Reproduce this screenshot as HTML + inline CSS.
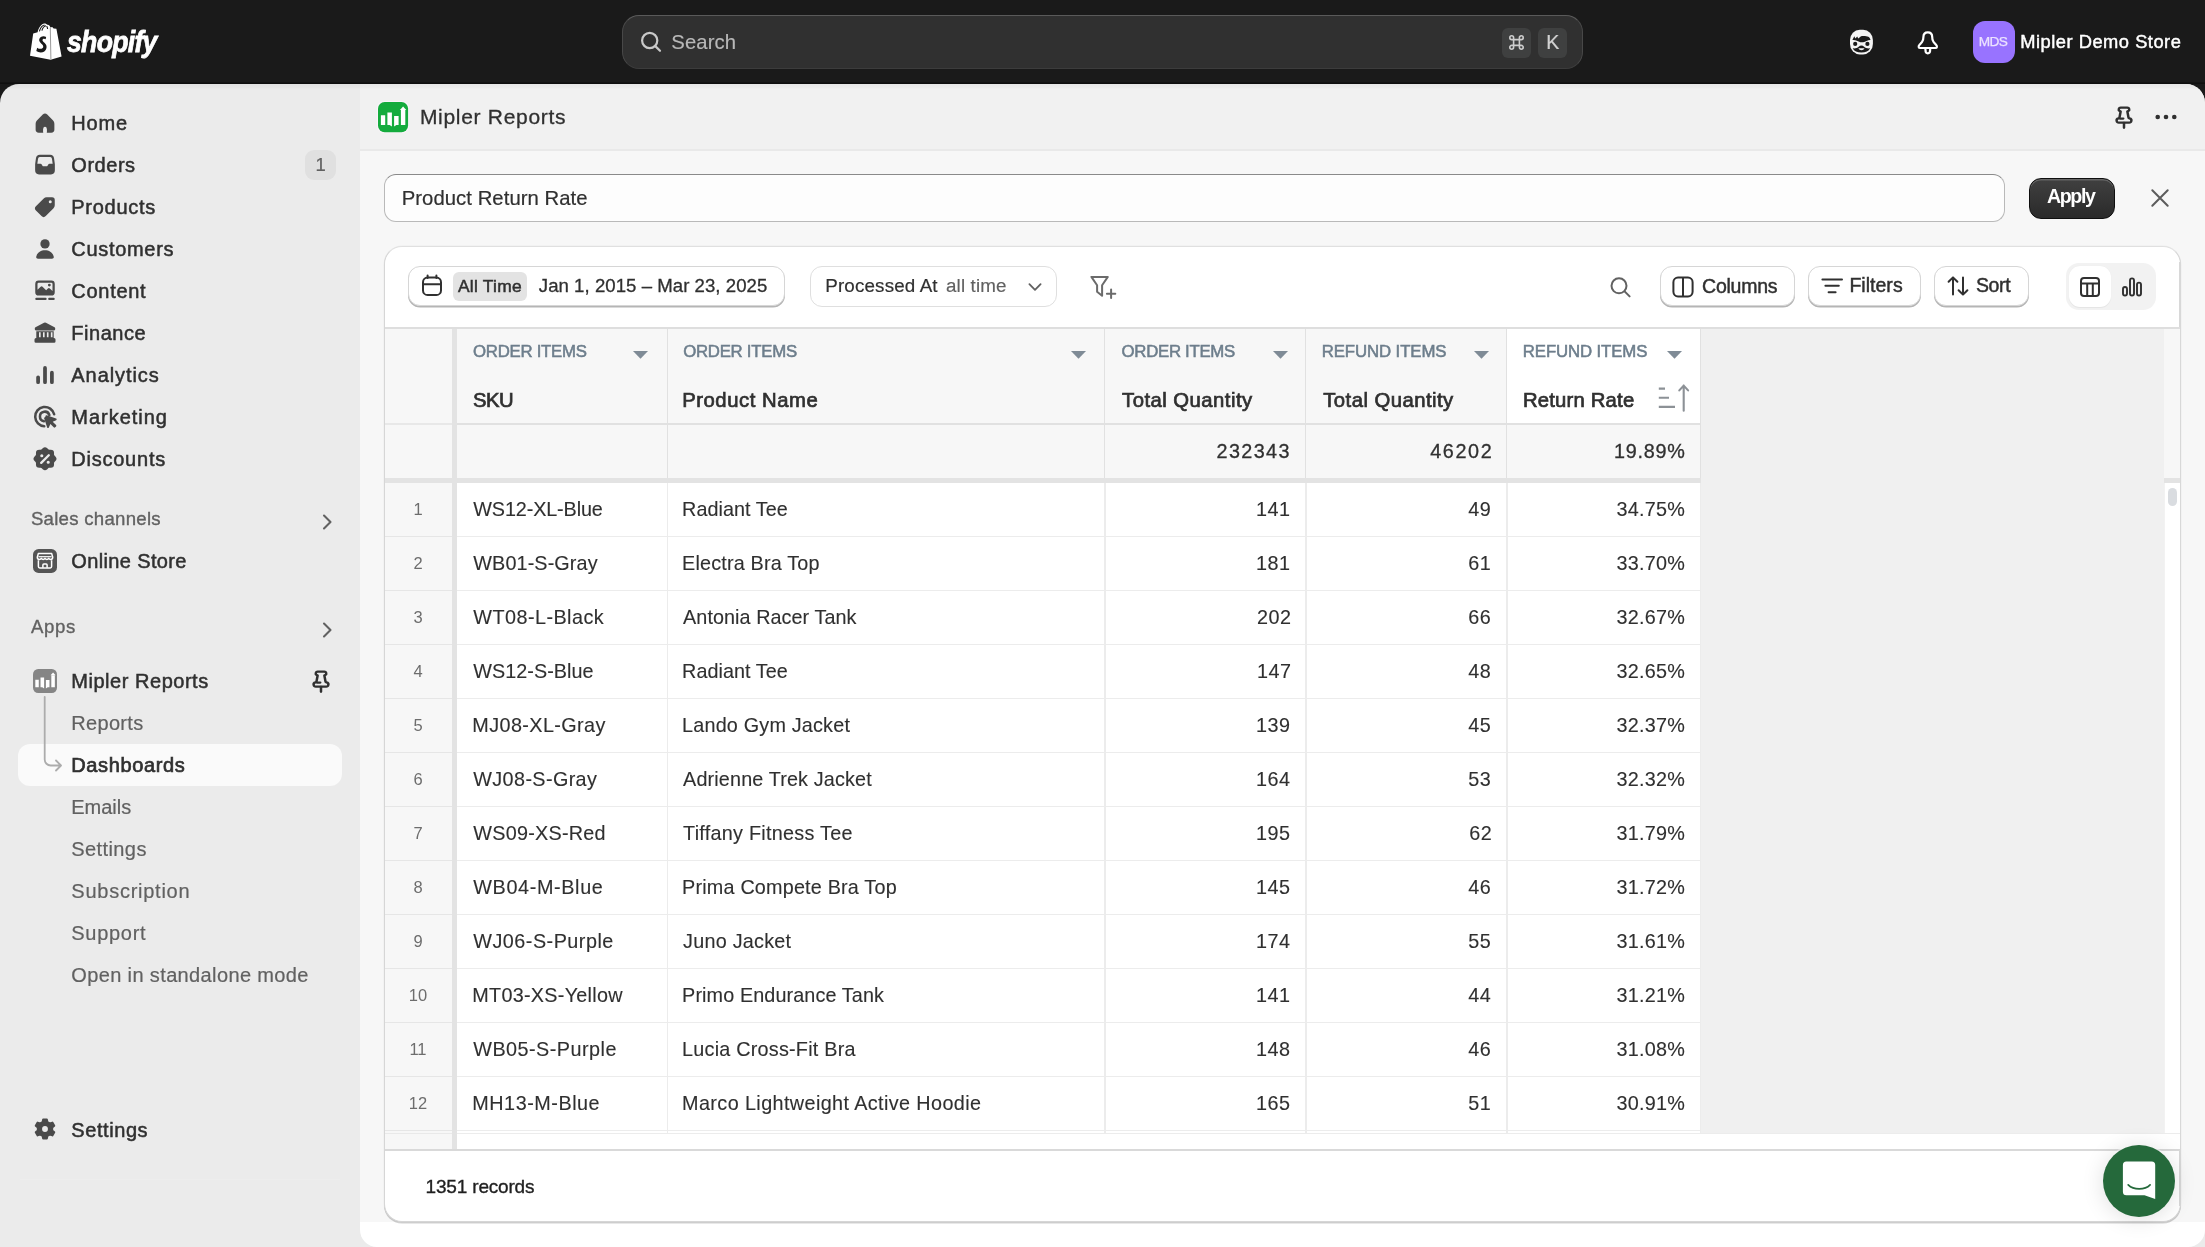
<!DOCTYPE html>
<html lang="en">
<head>
<meta charset="utf-8">
<title>Mipler Reports - Product Return Rate</title>
<style>
*{box-sizing:border-box;margin:0;padding:0}
html,body{width:2205px;height:1247px;overflow:hidden;background:#1a1a1a}
body{font-family:"Liberation Sans",sans-serif;color:#303030;position:relative}
.abs{position:absolute}
svg{display:block;overflow:visible}
.t{position:absolute;white-space:nowrap;line-height:1;transform:translateY(-50%)}
</style>
</head>
<body>
<div id="root" class="abs" style="left:0;top:0;width:2205px;height:1247px;will-change:transform">
<div class="abs" style="left:0px;top:0px;width:2205px;height:84px;background:#1a1a1a"></div>
<div class="abs" style="left:0px;top:81.5px;width:2205px;height:2.5px;background:linear-gradient(#151515,#0d0d0d)"></div>
<div class="abs" style="left:0px;top:84px;width:360px;height:1163px;background:#ebebeb;border-top-left-radius:19px"></div>
<div class="abs" style="left:360px;top:84px;width:1845px;height:1163px;background:#f7f7f7;border-top-right-radius:19px"></div>
<div class="abs" style="left:360px;top:84px;width:1845px;height:65.5px;background:#f1f1f1;border-top-right-radius:19px"></div>
<div class="abs" style="left:360px;top:149px;width:1845px;height:1.5px;background:#e9e9e9"></div>
<div class="abs" style="left:0px;top:84px;width:2205px;height:5px;background:linear-gradient(rgba(0,0,0,.045),rgba(0,0,0,.02) 80%,transparent);border-top-left-radius:19px;border-top-right-radius:19px"></div>
<div class="abs" style="left:360px;top:1222px;width:1845px;height:25px;background:#ebebeb"></div>
<div class="abs" style="left:360px;top:1222px;width:1845px;height:25px;background:#fff;border-bottom-left-radius:17px;border-bottom-right-radius:17px"></div>
<svg class="abs" style="left:29px;top:22px" width="34" height="39" viewBox="0 0 34 39" ><path d="M4.2 11.6 L8.6 10.2 C9.6 5.6 12.4 1.6 15.4 1.4 C16.6 1.3 17.5 1.9 18.2 2.8 C19.6 2.4 20.8 3.2 21.4 5.4 L23.2 5 L24.6 6.4 L27.4 6.7 L32.6 34.6 L21.6 37.8 L1 33.8 Z" fill="#fff"/>
<path d="M21.3 5.6 L21.9 37.6" stroke="#9a9a9a" stroke-width="1" fill="none"/>
<path d="M10.4 9.4 C11.4 5.9 13.4 3.4 15.5 3 M12.9 8.6 C13.6 6 15 4.2 17 3.8 M17.6 4.2 C18.3 5 18.5 6 18.6 7" stroke="#1a1a1a" stroke-width="1.1" fill="none"/>
<path transform="translate(-0.84 -0.34) scale(1.085 1.0875)" d="M16.6 14 C14.6 12.9 10.9 13.1 10.2 16.2 C9.5 19.6 14.4 20.6 13.9 23.4 C13.5 25.6 10.2 25.3 8.3 23.9 L7.5 27 C10.2 29.1 15.9 29 16.9 24.2 C17.8 19.6 12.9 18.9 13.2 16.8 C13.5 15.2 15.4 15.5 16.1 16.2 Z" fill="#1a1a1a"/></svg>
<div class="t" style="font-size:29.6px;color:#fff;transform:translateY(-50%) scaleX(0.9);transform-origin:0 50%;left:67.20px;top:42.30px;letter-spacing:-0.794px;font-weight:700;font-style:italic;-webkit-text-stroke:0.8px #fff">shopify</div>
<div class="abs" style="left:622px;top:15px;width:960.5px;height:54px;border-radius:17px;background:#303030;border:1px solid #484848;border-top-color:#5a5a5a;border-bottom-color:#3c3c3c"></div>
<svg class="abs" style="left:637px;top:28px" width="28" height="28" viewBox="0 0 28 28" fill="none" stroke="#c9c9c9" stroke-width="2.2" stroke-linecap="round"><circle cx="12.7" cy="12.5" r="7.6"/><path d="M18.3 18.1 L23 22.8"/></svg>
<div class="t" style="font-size:20.3px;color:#b8b8b8;left:671.30px;top:41.80px;letter-spacing:0.104px;-webkit-text-stroke:0.15px #b8b8b8">Search</div>
<div class="abs" style="left:1501.7px;top:27.7px;width:29.6px;height:30.2px;border-radius:6px;background:#3f4040"></div>
<div class="abs" style="left:1537.6px;top:27.7px;width:29.6px;height:30.2px;border-radius:6px;background:#3f4040"></div>
<svg class="abs" style="left:1508px;top:34px" width="17" height="17" viewBox="0 0 17 17" fill="none" stroke="#cdcdcd" stroke-width="1.6"><path d="M5.6 5.6h5.8v5.8H5.6ZM5.6 5.6V3.7a1.9 1.9 0 1 0-1.9 1.9ZM11.4 5.6h1.9a1.9 1.9 0 1 0-1.9-1.9ZM11.4 11.4v1.9a1.9 1.9 0 1 0 1.9-1.9ZM5.6 11.4H3.7a1.9 1.9 0 1 0 1.9 1.9Z"/></svg>
<div class="t" style="font-size:19.6px;color:#d2d2d2;left:1546.20px;top:43.10px;letter-spacing:0.000px;-webkit-text-stroke:0.2px #d2d2d2">K</div>
<svg class="abs" style="left:1847px;top:27px" width="28" height="29" viewBox="0 0 28 29" ><rect x="3" y="2.7" width="22.9" height="24.7" rx="9.8" ry="10.4" fill="#f4f4f4"/>
<path d="M5.4 13 7.3 9.3l1.1 2.3 1.8-2.1 1.1 1.9 2.7-2.2c2.7-.4 5.6-.1 7.3.5 1.1.4 1.9 1.7 2.2 3.3-1.3-.1-2.6.2-3.9.9-1.6.9-3.1 1.3-4.9 1.3s-3.3-.6-4.9-1.5c-1.4-.7-2.9-.9-4.4-.7Z" fill="#1a1a1a"/>
<circle cx="8.2" cy="16.9" r="2.1" fill="#1a1a1a"/><circle cx="20.4" cy="16.9" r="2.1" fill="#1a1a1a"/>
<path d="M5.7 21.3c2.5.4 4.6-.2 6-1.6 1.5-1.5 3.9-1.5 5.4 0 1.4 1.4 3.5 2 6 1.6-1.3 2.9-4.5 4.3-8.7 4.3s-7.4-1.4-8.7-4.3Z" fill="#1a1a1a"/>
<path d="M11.4 21.3c.9 2.5 5.2 2.5 6.1 0Z" fill="#f4f4f4"/></svg>
<svg class="abs" style="left:1913.5px;top:28.5px" width="28" height="28" viewBox="0 0 28 28" fill="none" stroke="#fff" stroke-width="2.2" stroke-linecap="round" stroke-linejoin="round"><path d="M13.8 3.3C10.9 3.3 9.4 5.4 9.4 8c0 2.5-.2 3.5-1.3 4.9-.9 1.1-1.8 2-2.7 3-1.2 1.3-1 3.1.9 3.1h15c1.9 0 2.1-1.8.9-3.1-.9-1-1.8-1.9-2.7-3-1.1-1.4-1.3-2.4-1.3-4.9 0-2.6-1.5-4.7-4.4-4.7Z"/>
<path d="M11.4 20.2c0 2.5 1 4.1 2.4 4.1s2.4-1.6 2.4-4.1"/></svg>
<div class="abs" style="left:1972.5px;top:21px;width:42px;height:42px;border-radius:12px;background:#9873ff"></div>
<div class="t" style="font-size:13.7px;color:#ece3ff;left:1978.70px;top:42.00px;letter-spacing:-0.643px;-webkit-text-stroke:0.25px #ece3ff">MDS</div>
<div class="t" style="font-size:18.3px;color:#fff;left:2020.30px;top:41.50px;letter-spacing:0.511px;-webkit-text-stroke:0.45px #fff">Mipler Demo Store</div>
<svg class="abs" style="left:30px;top:108.2px" width="30" height="30" viewBox="0 0 20 20" fill="#4a4a4a"><path d="M8.5 4.4a2.1 2.1 0 0 1 3 0l3.9 4a3 3 0 0 1 .85 2.1v3.9a2.1 2.1 0 0 1-2.1 2.1h-8.3a2.1 2.1 0 0 1-2.1-2.1v-3.9a3 3 0 0 1 .85-2.1l3.9-4Z"/><rect x="8.85" y="12.5" width="2.3" height="4.2" rx="1.1" fill="#ebebeb"/><rect x="8.85" y="14" width="2.3" height="2.7" fill="#ebebeb"/></svg>
<div class="t" style="font-size:20px;color:#303030;left:71.30px;top:122.60px;letter-spacing:0.824px;-webkit-text-stroke:0.5px #303030">Home</div>
<svg class="abs" style="left:30px;top:150.2px" width="30" height="30" viewBox="0 0 20 20" fill="#4a4a4a"><path transform="translate(10 9.7) scale(.94 1) translate(-10 -10)" fill-rule="evenodd" d="M6.3 3.5h7.4a2.75 2.75 0 0 1 2.72 2.35l.58 3.95v4a2.75 2.75 0 0 1-2.75 2.75h-8.5a2.75 2.75 0 0 1-2.75-2.75v-4l.58-3.95a2.75 2.75 0 0 1 2.72-2.35Zm0 1.5a1.25 1.25 0 0 0-1.24 1.07l-.5 3.43h2.2c.43 0 .83.23 1.04.6l.27.47c.2.35.58.58 1 .58h1.86c.42 0 .8-.23 1-.58l.27-.47c.21-.37.61-.6 1.04-.6h2.2l-.5-3.43a1.25 1.25 0 0 0-1.24-1.07h-7.4Z"/></svg>
<div class="t" style="font-size:20px;color:#303030;left:71.30px;top:164.60px;letter-spacing:0.535px;-webkit-text-stroke:0.5px #303030">Orders</div>
<svg class="abs" style="left:30px;top:192.2px" width="30" height="30" viewBox="0 0 20 20" fill="#4a4a4a"><path fill-rule="evenodd" d="M11.1 3.5h3.65a1.75 1.75 0 0 1 1.75 1.75v3.65a2.75 2.75 0 0 1-.8 1.95l-5.2 5.2a2 2 0 0 1-2.83 0l-3.72-3.72a2 2 0 0 1 0-2.83l5.2-5.2a2.75 2.75 0 0 1 1.95-.8Zm2.4 4a1 1 0 1 0 0-2 1 1 0 0 0 0 2Z"/></svg>
<div class="t" style="font-size:20px;color:#303030;left:71.30px;top:206.60px;letter-spacing:0.711px;-webkit-text-stroke:0.5px #303030">Products</div>
<svg class="abs" style="left:30px;top:234.2px" width="30" height="30" viewBox="0 0 20 20" fill="#4a4a4a"><circle cx="10" cy="6.6" r="3.1"/><path d="M4.15 15.1c.75-2.8 3.1-4.2 5.85-4.2s5.1 1.4 5.85 4.2c.2.75-.4 1.4-1.15 1.4h-9.4c-.75 0-1.35-.65-1.15-1.4Z"/></svg>
<div class="t" style="font-size:20px;color:#303030;left:71.30px;top:248.60px;letter-spacing:0.689px;-webkit-text-stroke:0.5px #303030">Customers</div>
<svg class="abs" style="left:30px;top:276.2px" width="30" height="30" viewBox="0 0 20 20" fill="#4a4a4a"><path fill-rule="evenodd" d="M5.75 3h8.5a2.25 2.25 0 0 1 2.25 2.25v5.5a2.25 2.25 0 0 1-2.25 2.25h-8.5a2.25 2.25 0 0 1-2.25-2.25v-5.5a2.25 2.25 0 0 1 2.25-2.25Zm-.75 6.2 2.1-2.1a.9.9 0 0 1 1.27 0l2.38 2.38 1.2-1.2a.9.9 0 0 1 1.27 0l1.78 1.78v-4.8a.75.75 0 0 0-.75-.75h-8.5a.75.75 0 0 0-.75.75v3.94Zm7.9-2.2a.95.95 0 1 0 0-1.9.95.95 0 0 0 0 1.9Z"/><path d="M4.25 14.5h6.1a.75.75 0 0 1 0 1.5h-6.1a.75.75 0 0 1 0-1.5Zm8.6 0h2.9a.75.75 0 0 1 0 1.5h-2.9a.75.75 0 0 1 0-1.5Z"/></svg>
<div class="t" style="font-size:20px;color:#303030;left:71.30px;top:290.60px;letter-spacing:0.718px;-webkit-text-stroke:0.5px #303030">Content</div>
<svg class="abs" style="left:30px;top:318.2px" width="30" height="30" viewBox="0 0 20 20" fill="#4a4a4a"><path d="M9.35 3.2a1.4 1.4 0 0 1 1.3 0l5.7 3a.85.85 0 0 1 .45.75v.6a.75.75 0 0 1-.75.75h-12.1a.75.75 0 0 1-.75-.75v-.6a.85.85 0 0 1 .45-.75l5.7-3Z"/><path fill-rule="evenodd" d="M4.2 8.9h11.6v4.6h-11.6Zm1.8.6v3.3h1.1v-3.3Zm2.65 0v3.3h1.1v-3.3Zm2.6 0v3.3h1.1v-3.3Zm2.65 0v3.3h1.1v-3.3Z"/><path d="M4 13.4h12a1 1 0 0 1 1 1v1.2a.9.9 0 0 1-.9.9h-12.2a.9.9 0 0 1-.9-.9v-1.2a1 1 0 0 1 1-1Z"/></svg>
<div class="t" style="font-size:20px;color:#303030;left:71.30px;top:332.60px;letter-spacing:0.528px;-webkit-text-stroke:0.5px #303030">Finance</div>
<svg class="abs" style="left:30px;top:360.2px" width="30" height="30" viewBox="0 0 20 20" fill="#4a4a4a"><path d="M5.4 10.3a1.25 1.25 0 0 1 1.25 1.25v3.2a1.25 1.25 0 0 1-2.5 0v-3.2a1.25 1.25 0 0 1 1.25-1.25Zm4.6-6.3a1.25 1.25 0 0 1 1.25 1.25v9.5a1.25 1.25 0 0 1-2.5 0v-9.5a1.25 1.25 0 0 1 1.25-1.25Zm4.6 3.2a1.25 1.25 0 0 1 1.25 1.25v6.3a1.25 1.25 0 0 1-2.5 0v-6.3a1.25 1.25 0 0 1 1.25-1.25Z"/></svg>
<div class="t" style="font-size:20px;color:#303030;left:71.30px;top:374.60px;letter-spacing:0.934px;-webkit-text-stroke:0.5px #303030">Analytics</div>
<svg class="abs" style="left:30px;top:402.2px" width="30" height="30" viewBox="0 0 20 20" fill="#4a4a4a"><path fill="none" stroke="#4a4a4a" stroke-width="1.7" stroke-linecap="round" d="M16.1 8.2a6.4 6.4 0 1 0-6.6 7.9"/><path fill="none" stroke="#4a4a4a" stroke-width="1.7" stroke-linecap="round" d="M12.9 8.7a3.2 3.2 0 1 0-3.6 4.1"/><path d="M10.35 9.6a.6.6 0 0 1 .75-.75l6.3 2.15a.6.6 0 0 1 .05 1.1l-2.3 1.05 2.2 2.2a.7.7 0 0 1 0 1l-.55.55a.7.7 0 0 1-1 0l-2.2-2.2-1.05 2.3a.6.6 0 0 1-1.1-.05l-2.1-6.35Z"/></svg>
<div class="t" style="font-size:20px;color:#303030;left:71.30px;top:416.60px;letter-spacing:0.976px;-webkit-text-stroke:0.5px #303030">Marketing</div>
<svg class="abs" style="left:30px;top:444.2px" width="30" height="30" viewBox="0 0 20 20" fill="#4a4a4a"><g transform="translate(10 10) scale(1.1) translate(-10 -10)"><path fill-rule="evenodd" d="M8.6 3.55a2 2 0 0 1 2.8 0l.55.53c.2.2.48.3.76.3l.77-.02a2 2 0 0 1 2 2l-.02.77c0 .28.1.56.3.76l.54.55a2 2 0 0 1 0 2.8l-.54.55c-.2.2-.3.48-.3.76l.02.77a2 2 0 0 1-2 2l-.77-.02c-.28 0-.56.1-.76.3l-.55.54a2 2 0 0 1-2.8 0l-.55-.54a1.05 1.05 0 0 0-.76-.3l-.77.02a2 2 0 0 1-2-2l.02-.77c0-.28-.1-.56-.3-.76l-.54-.55a2 2 0 0 1 0-2.8l.54-.55c.2-.2.3-.48.3-.76l-.02-.77a2 2 0 0 1 2-2l.77.02c.28 0 .56-.1.76-.3l.55-.53Zm-.55 5.4a.95.95 0 1 0 0-1.9.95.95 0 0 0 0 1.9Zm3.9 4a.95.95 0 1 0 0-1.9.95.95 0 0 0 0 1.9Zm.85-4.7a.7.7 0 0 0-1-1l-4.6 4.6a.7.7 0 0 0 1 1l4.6-4.6Z"/></g></svg>
<div class="t" style="font-size:20px;color:#303030;left:71.30px;top:458.60px;letter-spacing:0.761px;-webkit-text-stroke:0.5px #303030">Discounts</div>
<div class="abs" style="left:305px;top:150px;width:31px;height:30px;border-radius:9px;background:#e0e0e0"></div>
<div class="t" style="font-size:18.5px;color:#616161;left:315.50px;top:165.00px;letter-spacing:0.000px;-webkit-text-stroke:0.2px #616161">1</div>
<div class="t" style="font-size:18.6px;color:#616161;left:30.90px;top:518.60px;letter-spacing:0.276px;-webkit-text-stroke:0.35px #616161">Sales channels</div>
<svg class="abs" style="left:318px;top:510px" width="20" height="24" viewBox="0 0 20 24" fill="none" stroke="#616161" stroke-width="2.1" stroke-linecap="round" stroke-linejoin="round"><path d="M6 5.5 L12.5 12 L6 18.5"/></svg>
<svg class="abs" style="left:33px;top:549px" width="24" height="24" viewBox="0 0 24 24" ><rect width="24" height="24" rx="5.6" fill="#555"/>
<path d="M5.3 4.6h13.4l1 3.7c0 1.3-.9 2.2-2.1 2.2-.8 0-1.5-.4-1.9-1.1-.4.7-1.1 1.1-1.85 1.1s-1.45-.4-1.85-1.1c-.4.7-1.1 1.1-1.85 1.1s-1.45-.4-1.85-1.1c-.4.7-1.1 1.1-1.9 1.1-1.2 0-2.1-.9-2.1-2.2Z" fill="none" stroke="#fff" stroke-width="1.5" stroke-linejoin="round"/>
<path d="M5.5 7.7h13" stroke="#fff" stroke-width="1.2"/>
<path d="M5.4 11.2v6.4a1.4 1.4 0 0 0 1.4 1.4h10.4a1.4 1.4 0 0 0 1.4-1.4v-6.4" fill="none" stroke="#fff" stroke-width="1.5"/>
<path d="M9.9 18.8v-2.9a1 1 0 0 1 1-1h2.2a1 1 0 0 1 1 1v2.9" fill="none" stroke="#fff" stroke-width="1.5"/></svg>
<div class="t" style="font-size:20px;color:#303030;left:71.30px;top:561.20px;letter-spacing:0.359px;-webkit-text-stroke:0.5px #303030">Online Store</div>
<div class="t" style="font-size:18.6px;color:#616161;left:31.00px;top:626.80px;letter-spacing:0.605px;-webkit-text-stroke:0.35px #616161">Apps</div>
<svg class="abs" style="left:318px;top:618px" width="20" height="24" viewBox="0 0 20 24" fill="none" stroke="#616161" stroke-width="2.1" stroke-linecap="round" stroke-linejoin="round"><path d="M6 5.5 L12.5 12 L6 18.5"/></svg>
<svg class="abs" style="left:33px;top:668.8px" width="24" height="24" viewBox="0 0 24 24" ><rect width="24" height="24" rx="5.2" fill="#858585"/>
<g transform="scale(.8)"><path d="M2.9 13.3h4.3v9.6H2.9ZM9.4 10.6h4.5v13.9l-2.3-1.6H9.4ZM16.1 13.9h4.5v9H18.4l-2.3 1.6ZM22.9 7.7h4.4v15.2h-4.4Z" fill="#fff"/>
<path d="M21.9 7.9 L25.1 4.4 L28.3 7.9Z" fill="#fff"/></g></svg>
<div class="t" style="font-size:20px;color:#303030;left:71.30px;top:680.70px;letter-spacing:0.528px;-webkit-text-stroke:0.5px #303030">Mipler Reports</div>
<svg class="abs" style="left:307.15px;top:663.7px" width="28" height="32" viewBox="0 0 28 32" fill="none" stroke="#303030" stroke-width="2.3" stroke-linecap="round" stroke-linejoin="round"><g transform="translate(14 0) scale(1.09 1) translate(-14 0)"><path d="M10.9 7.65h6.2a1.75 1.75 0 0 1 .9 3.25l-.9.6 1.1 6.4 1 .45a2.2 2.2 0 0 1-.85 4.3H9.65a2.2 2.2 0 0 1-.85-4.3l1-.45 1.1-6.4-.9-.6a1.75 1.75 0 0 1 .9-3.25Z"/><path d="M14 22.9v4.9M10.3 18.6h3"/></g></svg>
<div class="abs" style="left:18px;top:744px;width:324px;height:41.5px;border-radius:12px;background:#fafafa"></div>
<svg class="abs" style="left:36px;top:696px" width="32" height="80" viewBox="0 0 32 80" fill="none" stroke="#acacac" stroke-width="1.8" stroke-linecap="round" stroke-linejoin="round"><path d="M8.7 1 V63.5 a6 6 0 0 0 6 6 H24.5 M20 64.5 L25 69.5 L20 74.5"/></svg>
<div class="t" style="font-size:20px;color:#616161;left:71.30px;top:722.60px;letter-spacing:0.312px;-webkit-text-stroke:0.2px #616161">Reports</div>
<div class="t" style="font-size:20px;color:#303030;left:71.30px;top:764.80px;letter-spacing:0.618px;-webkit-text-stroke:0.7px #303030">Dashboards</div>
<div class="t" style="font-size:20px;color:#616161;left:71.30px;top:806.60px;letter-spacing:-0.022px;-webkit-text-stroke:0.2px #616161">Emails</div>
<div class="t" style="font-size:20px;color:#616161;left:71.30px;top:848.60px;letter-spacing:0.405px;-webkit-text-stroke:0.2px #616161">Settings</div>
<div class="t" style="font-size:20px;color:#616161;left:71.30px;top:890.60px;letter-spacing:0.751px;-webkit-text-stroke:0.2px #616161">Subscription</div>
<div class="t" style="font-size:20px;color:#616161;left:71.30px;top:932.60px;letter-spacing:0.701px;-webkit-text-stroke:0.2px #616161">Support</div>
<div class="t" style="font-size:20px;color:#616161;left:71.30px;top:974.60px;letter-spacing:0.367px;-webkit-text-stroke:0.2px #616161">Open in standalone mode</div>
<svg class="abs" style="left:30px;top:1114px" width="30" height="30" viewBox="0 0 20 20" fill="#4a4a4a"><path fill-rule="evenodd" stroke="#4a4a4a" stroke-width="1.3" stroke-linejoin="round" d="M11.6 5.37 L11.25 3.57 L8.75 3.57 L8.4 5.37 L6.79 6.3 L5.06 5.7 L3.81 7.87 L5.19 9.07 L5.19 10.93 L3.81 12.13 L5.06 14.3 L6.79 13.7 L8.4 14.63 L8.75 16.43 L11.25 16.43 L11.6 14.63 L13.21 13.7 L14.94 14.3 L16.19 12.13 L14.81 10.93 L14.81 9.07 L16.19 7.87 L14.94 5.7 L13.21 6.3Z M10 12.6a2.6 2.6 0 1 0 0-5.2 2.6 2.6 0 0 0 0 5.2Z"/></svg>
<div class="abs" style="left:20px;top:1179.2px;width:320px;height:1.3px;background:#ededed"></div>
<div class="t" style="font-size:20px;color:#303030;left:71.30px;top:1129.60px;letter-spacing:0.576px;-webkit-text-stroke:0.5px #303030">Settings</div>
<svg class="abs" style="left:378px;top:101.8px" width="30" height="30" viewBox="0 0 30 30" ><rect x="-1.1" y="-1.1" width="32.3" height="32.4" rx="7.6" fill="#fbf4fb"/><rect width="30.1" height="30.2" rx="6.6" fill="#14ab3d"/>
<path d="M2.9 13.3h4.3v9.6H2.9ZM9.4 10.6h4.5v13.9l-2.3-1.6H9.4ZM16.1 13.9h4.5v9H18.4l-2.3 1.6ZM22.9 7.7h4.4v15.2h-4.4Z" fill="#fff"/>
<path d="M21.9 7.9 L25.1 4.4 L28.3 7.9Z" fill="#fff"/></svg>
<div class="t" style="font-size:21px;color:#303030;left:419.90px;top:115.90px;letter-spacing:0.705px;-webkit-text-stroke:0.3px #303030">Mipler Reports</div>
<svg class="abs" style="left:2110px;top:100px" width="28" height="32" viewBox="0 0 28 32" fill="none" stroke="#303030" stroke-width="2.3" stroke-linecap="round" stroke-linejoin="round"><g transform="translate(14 0) scale(1.09 1) translate(-14 0)"><path d="M10.9 7.65h6.2a1.75 1.75 0 0 1 .9 3.25l-.9.6 1.1 6.4 1 .45a2.2 2.2 0 0 1-.85 4.3H9.65a2.2 2.2 0 0 1-.85-4.3l1-.45 1.1-6.4-.9-.6a1.75 1.75 0 0 1 .9-3.25Z"/><path d="M14 22.9v4.9M10.3 18.6h3"/></g></svg>
<svg class="abs" style="left:2153px;top:113px" width="26" height="8" viewBox="0 0 26 8" fill="#303030"><circle cx="4.7" cy="4" r="2.3"/><circle cx="13" cy="4" r="2.3"/><circle cx="21.3" cy="4" r="2.3"/></svg>
<div class="abs" style="left:384px;top:174px;width:1620.5px;height:47.5px;border-radius:12px;background:#fdfdfd;border:1px solid #b9b9b9;border-top-color:#8a8a8a"></div>
<div class="t" style="font-size:20.3px;color:#303030;left:401.70px;top:197.60px;letter-spacing:0.056px;-webkit-text-stroke:0.2px #303030">Product Return Rate</div>
<div class="abs" style="left:2028.5px;top:177.5px;width:86.5px;height:41.5px;border-radius:12px;background:linear-gradient(#404040,#2a2a2a);border:1.5px solid #0f0f0f;box-shadow:inset 0 1.5px 0 rgba(255,255,255,.2)"></div>
<div class="t" style="font-size:19.6px;color:#fff;left:2047.00px;top:197.30px;letter-spacing:-1.383px;font-weight:700">Apply</div>
<svg class="abs" style="left:2148px;top:186px" width="24" height="24" viewBox="0 0 24 24" fill="none" stroke="#5c5c5c" stroke-width="2" stroke-linecap="round"><path d="M4.3 4.3 L19.7 19.7 M19.7 4.3 L4.3 19.7"/></svg>
<div class="abs" style="left:384px;top:246px;width:1797px;height:976px;border-radius:18px;background:#fff;border:1px solid #d6d6d6;border-top-color:#e0e0e0;box-shadow:0 1.5px 0 rgba(0,0,0,.18), 0 0 0 .5px rgba(0,0,0,.04)"></div>
<div class="abs" style="left:2179px;top:262px;width:2px;height:944px;background:#d8d8d8"></div>
<div class="abs" style="left:408px;top:266px;width:377px;height:39.7px;border-radius:12px;background:#fff;border:1px solid #d6d6d6;box-shadow:0 1.5px 0 #b5b5b5"></div>
<svg class="abs" style="left:420px;top:274px" width="24" height="24" viewBox="0 0 24 24" fill="none" stroke="#303030" stroke-width="2" stroke-linecap="round"><rect x="3" y="3.6" width="18" height="17.4" rx="4.6"/><path d="M3.4 10.2h17.2M7.6 1.6v2.4M16.4 1.6v2.4"/></svg>
<div class="abs" style="left:453px;top:271.7px;width:73.5px;height:29.3px;border-radius:6px;background:#e3e3e3"></div>
<div class="t" style="font-size:17.4px;color:#303030;left:458.00px;top:286.60px;letter-spacing:0.245px;-webkit-text-stroke:0.5px #303030">All Time</div>
<div class="t" style="font-size:18.6px;color:#303030;left:538.80px;top:286.20px;letter-spacing:0.041px;-webkit-text-stroke:0.3px #303030">Jan 1, 2015 – Mar 23, 2025</div>
<div class="abs" style="left:810px;top:266px;width:247px;height:40.7px;border-radius:12px;background:#fff;border:1.5px solid #dfdfdf"></div>
<div class="t" style="font-size:18.8px;color:#303030;left:825.30px;top:286.20px;letter-spacing:0.147px;-webkit-text-stroke:0.2px #303030">Processed At</div>
<div class="t" style="font-size:18.8px;color:#616161;left:946.00px;top:286.20px;letter-spacing:0.137px;-webkit-text-stroke:0.15px #616161">all time</div>
<svg class="abs" style="left:1025px;top:277px" width="20" height="20" viewBox="0 0 20 20" fill="none" stroke="#616161" stroke-width="1.8" stroke-linecap="round" stroke-linejoin="round"><path d="M4.4 7.2 L10 12.8 L15.6 7.2"/></svg>
<svg class="abs" style="left:1088px;top:273px" width="30" height="28" viewBox="0 0 30 28" fill="none" stroke="#6b6b6b" stroke-width="2" stroke-linecap="round" stroke-linejoin="round"><path d="M3.4 3.9h16.4l-5.7 8.3v10.6l-5-4.1v-6.5Z"/><path d="M23.1 16.6v8.4M18.9 20.8h8.4"/></svg>
<svg class="abs" style="left:1607px;top:274px" width="26" height="26" viewBox="0 0 26 26" fill="none" stroke="#616161" stroke-width="2" stroke-linecap="round"><circle cx="12" cy="11.8" r="7.5"/><path d="M17.6 17.4 L22.6 22.4"/></svg>
<div class="abs" style="left:1659.5px;top:266px;width:135.5px;height:40px;border-radius:12px;background:#fff;border:1px solid #d6d6d6;box-shadow:0 1.5px 0 #b5b5b5"></div>
<svg class="abs" style="left:1671px;top:274.5px" width="24" height="24" viewBox="0 0 24 24" fill="none" stroke="#303030" stroke-width="2"><rect x="2.4" y="2.6" width="19.2" height="18.8" rx="4.6"/><path d="M12 2.6v18.8"/></svg>
<div class="t" style="font-size:19.5px;color:#303030;left:1702.10px;top:286.60px;letter-spacing:-0.249px;-webkit-text-stroke:0.45px #303030">Columns</div>
<div class="abs" style="left:1808px;top:265.5px;width:113px;height:40px;border-radius:12px;background:#fff;border:1px solid #d6d6d6;box-shadow:0 1.5px 0 #b5b5b5"></div>
<svg class="abs" style="left:1819.5px;top:274px" width="24" height="24" viewBox="0 0 24 24" fill="none" stroke="#303030" stroke-width="2" stroke-linecap="round"><path d="M2.4 5.4h19.6M5.4 11.8h13.4M8.6 18.2h7"/></svg>
<div class="t" style="font-size:19.5px;color:#303030;left:1849.40px;top:285.60px;letter-spacing:0.028px;-webkit-text-stroke:0.45px #303030">Filters</div>
<div class="abs" style="left:1934px;top:265.5px;width:95px;height:40px;border-radius:12px;background:#fff;border:1px solid #d6d6d6;box-shadow:0 1.5px 0 #b5b5b5"></div>
<svg class="abs" style="left:1945.5px;top:274px" width="24" height="24" viewBox="0 0 24 24" fill="none" stroke="#303030" stroke-width="2" stroke-linecap="round" stroke-linejoin="round"><path d="M7 20.4V3.4M2.6 7.8 7 3.4l4.4 4.4M17 3.6v17M12.6 16.2l4.4 4.4 4.4-4.4"/></svg>
<div class="t" style="font-size:19.5px;color:#303030;left:1975.90px;top:285.60px;letter-spacing:-0.348px;-webkit-text-stroke:0.45px #303030">Sort</div>
<div class="abs" style="left:2065.5px;top:262.5px;width:90px;height:47.5px;border-radius:13px;background:#f2f2f2"></div>
<div class="abs" style="left:2069px;top:266px;width:41.5px;height:41px;border-radius:11px;background:#fff;box-shadow:0 .5px 1px rgba(0,0,0,.06)"></div>
<svg class="abs" style="left:2077.6px;top:274.5px" width="24" height="24" viewBox="0 0 24 24" fill="none" stroke="#303030" stroke-width="2" stroke-linejoin="round"><rect x="3" y="3" width="18" height="18" rx="3"/><path d="M3 8.6h18M9.2 8.6V21M14.8 8.6V21"/></svg>
<svg class="abs" style="left:2119.8px;top:275px" width="24" height="24" viewBox="0 0 24 24" fill="none" stroke="#303030" stroke-width="1.9" stroke-linejoin="round"><rect x="3" y="12" width="4" height="8.6" rx="2"/><rect x="10" y="3.4" width="4" height="17.2" rx="2"/><rect x="17" y="7.6" width="4" height="13" rx="2"/></svg>
<div class="abs" style="left:385px;top:327px;width:1795px;height:1.5px;background:#dedede"></div>
<div class="abs" style="left:1700.5px;top:328.5px;width:463.5px;height:805px;background:#f0f0f0"></div>
<div class="abs" style="left:2164px;top:328.5px;width:15.5px;height:149.5px;background:#f7f7f7"></div>
<div class="abs" style="left:2164px;top:483px;width:15.5px;height:650px;background:#fff;border-left:1.5px solid #f2f2f2"></div>
<div class="abs" style="left:2164px;top:478px;width:15.5px;height:5px;background:#e3e3e3"></div>
<div class="abs" style="left:2168px;top:487.5px;width:9px;height:18px;border-radius:5px;background:#d9dce0"></div>
<div class="abs" style="left:385px;top:328.5px;width:67px;height:95.5px;background:#f7f7f7"></div>
<div class="abs" style="left:385px;top:424px;width:67px;height:54px;background:#f7f7f7"></div>
<div class="abs" style="left:385px;top:423.3px;width:67px;height:1.5px;background:#e8e8e8"></div>
<div class="abs" style="left:457px;top:328.5px;width:210.5px;height:95.5px;background:#f7f7f7"></div>
<div class="abs" style="left:457px;top:424px;width:210.5px;height:54px;background:#f7f7f7"></div>
<div class="abs" style="left:457px;top:423.3px;width:210.5px;height:1.5px;background:#e1e1e1"></div>
<div class="abs" style="left:666.5px;top:328.5px;width:1.5px;height:149.5px;background:#e1e1e1"></div>
<div class="abs" style="left:667.5px;top:328.5px;width:437.5px;height:95.5px;background:#f7f7f7"></div>
<div class="abs" style="left:667.5px;top:424px;width:437.5px;height:54px;background:#f7f7f7"></div>
<div class="abs" style="left:667.5px;top:423.3px;width:437.5px;height:1.5px;background:#e1e1e1"></div>
<div class="abs" style="left:1104px;top:328.5px;width:1.5px;height:149.5px;background:#e1e1e1"></div>
<div class="abs" style="left:1105px;top:328.5px;width:201px;height:95.5px;background:#f7f7f7"></div>
<div class="abs" style="left:1105px;top:424px;width:201px;height:54px;background:#f7f7f7"></div>
<div class="abs" style="left:1105px;top:423.3px;width:201px;height:1.5px;background:#e1e1e1"></div>
<div class="abs" style="left:1305px;top:328.5px;width:1.5px;height:149.5px;background:#e1e1e1"></div>
<div class="abs" style="left:1306px;top:328.5px;width:201px;height:95.5px;background:#f7f7f7"></div>
<div class="abs" style="left:1306px;top:424px;width:201px;height:54px;background:#f7f7f7"></div>
<div class="abs" style="left:1306px;top:423.3px;width:201px;height:1.5px;background:#e1e1e1"></div>
<div class="abs" style="left:1506px;top:328.5px;width:1.5px;height:149.5px;background:#e1e1e1"></div>
<div class="abs" style="left:1507px;top:328.5px;width:193.5px;height:95.5px;background:#fff"></div>
<div class="abs" style="left:1507px;top:424px;width:193.5px;height:54px;background:#f7f7f7"></div>
<div class="abs" style="left:1507px;top:423.3px;width:193.5px;height:1.5px;background:#e1e1e1"></div>
<div class="abs" style="left:1699.5px;top:328.5px;width:1.5px;height:149.5px;background:#e1e1e1"></div>
<div class="t" style="font-size:16.8px;color:#6d7e8c;left:473.00px;top:352.40px;letter-spacing:-0.265px;-webkit-text-stroke:0.55px #6d7e8c">ORDER ITEMS</div>
<div class="t" style="font-size:20.3px;color:#303030;left:473.00px;top:399.90px;letter-spacing:-0.577px;-webkit-text-stroke:0.7px #303030">SKU</div>
<svg class="abs" style="left:633.3px;top:351px" width="15" height="8" viewBox="0 0 15 8" fill="#7f8b96"><path d="M0 0H15L7.5 7.8Z"/></svg>
<div class="t" style="font-size:16.8px;color:#6d7e8c;left:683.20px;top:352.40px;letter-spacing:-0.265px;-webkit-text-stroke:0.55px #6d7e8c">ORDER ITEMS</div>
<div class="t" style="font-size:20.3px;color:#303030;left:682.20px;top:399.90px;letter-spacing:0.532px;-webkit-text-stroke:0.7px #303030">Product Name</div>
<svg class="abs" style="left:1071px;top:351px" width="15" height="8" viewBox="0 0 15 8" fill="#7f8b96"><path d="M0 0H15L7.5 7.8Z"/></svg>
<div class="t" style="font-size:16.8px;color:#6d7e8c;left:1121.60px;top:352.40px;letter-spacing:-0.295px;-webkit-text-stroke:0.55px #6d7e8c">ORDER ITEMS</div>
<div class="t" style="font-size:20.3px;color:#303030;left:1122.10px;top:399.90px;letter-spacing:0.464px;-webkit-text-stroke:0.7px #303030">Total Quantity</div>
<svg class="abs" style="left:1272.7px;top:351px" width="15" height="8" viewBox="0 0 15 8" fill="#7f8b96"><path d="M0 0H15L7.5 7.8Z"/></svg>
<div class="t" style="font-size:16.8px;color:#6d7e8c;left:1321.70px;top:352.40px;letter-spacing:-0.097px;-webkit-text-stroke:0.55px #6d7e8c">REFUND ITEMS</div>
<div class="t" style="font-size:20.3px;color:#303030;left:1323.20px;top:399.90px;letter-spacing:0.464px;-webkit-text-stroke:0.7px #303030">Total Quantity</div>
<svg class="abs" style="left:1473.5px;top:351px" width="15" height="8" viewBox="0 0 15 8" fill="#7f8b96"><path d="M0 0H15L7.5 7.8Z"/></svg>
<div class="t" style="font-size:16.8px;color:#6d7e8c;left:1522.80px;top:352.40px;letter-spacing:-0.115px;-webkit-text-stroke:0.55px #6d7e8c">REFUND ITEMS</div>
<div class="t" style="font-size:20.3px;color:#303030;left:1523.00px;top:399.90px;letter-spacing:0.183px;-webkit-text-stroke:0.7px #303030">Return Rate</div>
<svg class="abs" style="left:1666.5px;top:351px" width="15" height="8" viewBox="0 0 15 8" fill="#7f8b96"><path d="M0 0H15L7.5 7.8Z"/></svg>
<svg class="abs" style="left:1657px;top:382px" width="36" height="32" viewBox="0 0 36 32" fill="none" stroke="#8c9196"><path d="M1.8 6.6h6.2M1.8 15.8h10.2M1.8 24.9h16.2" stroke-width="2.1"/><path d="M26.7 28.8V3.6M22.3 8.4l4.4-4.8 4.4 4.8" stroke-width="2.1" stroke-linecap="round" stroke-linejoin="round"/></svg>
<div class="t" style="font-size:19.8px;color:#303030;left:1216.60px;top:452.30px;letter-spacing:1.379px;-webkit-text-stroke:0.3px #303030">232343</div>
<div class="t" style="font-size:19.8px;color:#303030;left:1430.20px;top:452.30px;letter-spacing:1.624px;-webkit-text-stroke:0.3px #303030">46202</div>
<div class="t" style="font-size:19.8px;color:#303030;left:1614.10px;top:452.30px;letter-spacing:0.740px;-webkit-text-stroke:0.3px #303030">19.89%</div>
<div class="abs" style="left:385px;top:477.7px;width:1315.5px;height:5px;background:#e3e3e3"></div>
<div class="abs" style="left:385px;top:482.6px;width:67px;height:650.9px;background:#f7f7f7"></div>
<div class="abs" style="left:666.5px;top:482.6px;width:1.5px;height:650.9px;background:#ececec"></div>
<div class="abs" style="left:1104px;top:482.6px;width:1.5px;height:650.9px;background:#ececec"></div>
<div class="abs" style="left:1305px;top:482.6px;width:1.5px;height:650.9px;background:#ececec"></div>
<div class="abs" style="left:1506px;top:482.6px;width:1.5px;height:650.9px;background:#ececec"></div>
<div class="abs" style="left:1699.5px;top:482.6px;width:1.5px;height:650.9px;background:#ececec"></div>
<div class="abs" style="left:385px;top:535.6px;width:67px;height:1.5px;background:#e6e6e6"></div>
<div class="abs" style="left:457px;top:535.6px;width:1243.5px;height:1.5px;background:#ececec"></div>
<div class="t" style="font-size:16.5px;color:#6d6d6d;top:508.70px;left:385px;width:66px;text-align:center">1</div>
<div class="t" style="font-size:19.8px;color:#303030;left:473.30px;top:510.25px;letter-spacing:-0.121px;-webkit-text-stroke:0.12px #303030">WS12-XL-Blue</div>
<div class="t" style="font-size:19.8px;color:#303030;left:682.10px;top:510.25px;letter-spacing:0.053px;-webkit-text-stroke:0.12px #303030">Radiant Tee</div>
<div class="t" style="font-size:19.8px;color:#303030;right:914.60px;top:510.25px;letter-spacing:0.5px;-webkit-text-stroke:0.12px #303030">141</div>
<div class="t" style="font-size:19.8px;color:#303030;right:713.80px;top:510.25px;letter-spacing:0.5px;-webkit-text-stroke:0.12px #303030">49</div>
<div class="t" style="font-size:19.8px;color:#303030;right:519.86px;top:510.25px;letter-spacing:0.25px;-webkit-text-stroke:0.12px #303030">34.75%</div>
<div class="abs" style="left:385px;top:589.6px;width:67px;height:1.5px;background:#e6e6e6"></div>
<div class="abs" style="left:457px;top:589.6px;width:1243.5px;height:1.5px;background:#ececec"></div>
<div class="t" style="font-size:16.5px;color:#6d6d6d;top:562.70px;left:385px;width:66px;text-align:center">2</div>
<div class="t" style="font-size:19.8px;color:#303030;left:473.30px;top:564.25px;letter-spacing:0.119px;-webkit-text-stroke:0.12px #303030">WB01-S-Gray</div>
<div class="t" style="font-size:19.8px;color:#303030;left:682.10px;top:564.25px;letter-spacing:0.176px;-webkit-text-stroke:0.12px #303030">Electra Bra Top</div>
<div class="t" style="font-size:19.8px;color:#303030;right:914.60px;top:564.25px;letter-spacing:0.5px;-webkit-text-stroke:0.12px #303030">181</div>
<div class="t" style="font-size:19.8px;color:#303030;right:713.80px;top:564.25px;letter-spacing:0.5px;-webkit-text-stroke:0.12px #303030">61</div>
<div class="t" style="font-size:19.8px;color:#303030;right:519.86px;top:564.25px;letter-spacing:0.25px;-webkit-text-stroke:0.12px #303030">33.70%</div>
<div class="abs" style="left:385px;top:643.6px;width:67px;height:1.5px;background:#e6e6e6"></div>
<div class="abs" style="left:457px;top:643.6px;width:1243.5px;height:1.5px;background:#ececec"></div>
<div class="t" style="font-size:16.5px;color:#6d6d6d;top:616.70px;left:385px;width:66px;text-align:center">3</div>
<div class="t" style="font-size:19.8px;color:#303030;left:473.30px;top:618.25px;letter-spacing:0.462px;-webkit-text-stroke:0.12px #303030">WT08-L-Black</div>
<div class="t" style="font-size:19.8px;color:#303030;left:683.10px;top:618.25px;letter-spacing:0.062px;-webkit-text-stroke:0.12px #303030">Antonia Racer Tank</div>
<div class="t" style="font-size:19.8px;color:#303030;right:913.60px;top:618.25px;letter-spacing:0.5px;-webkit-text-stroke:0.12px #303030">202</div>
<div class="t" style="font-size:19.8px;color:#303030;right:713.80px;top:618.25px;letter-spacing:0.5px;-webkit-text-stroke:0.12px #303030">66</div>
<div class="t" style="font-size:19.8px;color:#303030;right:519.86px;top:618.25px;letter-spacing:0.25px;-webkit-text-stroke:0.12px #303030">32.67%</div>
<div class="abs" style="left:385px;top:697.6px;width:67px;height:1.5px;background:#e6e6e6"></div>
<div class="abs" style="left:457px;top:697.6px;width:1243.5px;height:1.5px;background:#ececec"></div>
<div class="t" style="font-size:16.5px;color:#6d6d6d;top:670.70px;left:385px;width:66px;text-align:center">4</div>
<div class="t" style="font-size:19.8px;color:#303030;left:473.30px;top:672.25px;letter-spacing:0.047px;-webkit-text-stroke:0.12px #303030">WS12-S-Blue</div>
<div class="t" style="font-size:19.8px;color:#303030;left:682.10px;top:672.25px;letter-spacing:0.053px;-webkit-text-stroke:0.12px #303030">Radiant Tee</div>
<div class="t" style="font-size:19.8px;color:#303030;right:913.60px;top:672.25px;letter-spacing:0.5px;-webkit-text-stroke:0.12px #303030">147</div>
<div class="t" style="font-size:19.8px;color:#303030;right:713.80px;top:672.25px;letter-spacing:0.5px;-webkit-text-stroke:0.12px #303030">48</div>
<div class="t" style="font-size:19.8px;color:#303030;right:519.86px;top:672.25px;letter-spacing:0.25px;-webkit-text-stroke:0.12px #303030">32.65%</div>
<div class="abs" style="left:385px;top:751.6px;width:67px;height:1.5px;background:#e6e6e6"></div>
<div class="abs" style="left:457px;top:751.6px;width:1243.5px;height:1.5px;background:#ececec"></div>
<div class="t" style="font-size:16.5px;color:#6d6d6d;top:724.70px;left:385px;width:66px;text-align:center">5</div>
<div class="t" style="font-size:19.8px;color:#303030;left:472.30px;top:726.25px;letter-spacing:0.408px;-webkit-text-stroke:0.12px #303030">MJ08-XL-Gray</div>
<div class="t" style="font-size:19.8px;color:#303030;left:682.10px;top:726.25px;letter-spacing:0.191px;-webkit-text-stroke:0.12px #303030">Lando Gym Jacket</div>
<div class="t" style="font-size:19.8px;color:#303030;right:914.60px;top:726.25px;letter-spacing:0.5px;-webkit-text-stroke:0.12px #303030">139</div>
<div class="t" style="font-size:19.8px;color:#303030;right:713.80px;top:726.25px;letter-spacing:0.5px;-webkit-text-stroke:0.12px #303030">45</div>
<div class="t" style="font-size:19.8px;color:#303030;right:519.86px;top:726.25px;letter-spacing:0.25px;-webkit-text-stroke:0.12px #303030">32.37%</div>
<div class="abs" style="left:385px;top:805.6px;width:67px;height:1.5px;background:#e6e6e6"></div>
<div class="abs" style="left:457px;top:805.6px;width:1243.5px;height:1.5px;background:#ececec"></div>
<div class="t" style="font-size:16.5px;color:#6d6d6d;top:778.70px;left:385px;width:66px;text-align:center">6</div>
<div class="t" style="font-size:19.8px;color:#303030;left:473.30px;top:780.25px;letter-spacing:0.379px;-webkit-text-stroke:0.12px #303030">WJ08-S-Gray</div>
<div class="t" style="font-size:19.8px;color:#303030;left:683.10px;top:780.25px;letter-spacing:0.143px;-webkit-text-stroke:0.12px #303030">Adrienne Trek Jacket</div>
<div class="t" style="font-size:19.8px;color:#303030;right:914.60px;top:780.25px;letter-spacing:0.5px;-webkit-text-stroke:0.12px #303030">164</div>
<div class="t" style="font-size:19.8px;color:#303030;right:713.80px;top:780.25px;letter-spacing:0.5px;-webkit-text-stroke:0.12px #303030">53</div>
<div class="t" style="font-size:19.8px;color:#303030;right:519.86px;top:780.25px;letter-spacing:0.25px;-webkit-text-stroke:0.12px #303030">32.32%</div>
<div class="abs" style="left:385px;top:859.6px;width:67px;height:1.5px;background:#e6e6e6"></div>
<div class="abs" style="left:457px;top:859.6px;width:1243.5px;height:1.5px;background:#ececec"></div>
<div class="t" style="font-size:16.5px;color:#6d6d6d;top:832.70px;left:385px;width:66px;text-align:center">7</div>
<div class="t" style="font-size:19.8px;color:#303030;left:473.30px;top:834.25px;letter-spacing:0.248px;-webkit-text-stroke:0.12px #303030">WS09-XS-Red</div>
<div class="t" style="font-size:19.8px;color:#303030;left:683.10px;top:834.25px;letter-spacing:0.266px;-webkit-text-stroke:0.12px #303030">Tiffany Fitness Tee</div>
<div class="t" style="font-size:19.8px;color:#303030;right:914.60px;top:834.25px;letter-spacing:0.5px;-webkit-text-stroke:0.12px #303030">195</div>
<div class="t" style="font-size:19.8px;color:#303030;right:712.80px;top:834.25px;letter-spacing:0.5px;-webkit-text-stroke:0.12px #303030">62</div>
<div class="t" style="font-size:19.8px;color:#303030;right:519.86px;top:834.25px;letter-spacing:0.25px;-webkit-text-stroke:0.12px #303030">31.79%</div>
<div class="abs" style="left:385px;top:913.6px;width:67px;height:1.5px;background:#e6e6e6"></div>
<div class="abs" style="left:457px;top:913.6px;width:1243.5px;height:1.5px;background:#ececec"></div>
<div class="t" style="font-size:16.5px;color:#6d6d6d;top:886.70px;left:385px;width:66px;text-align:center">8</div>
<div class="t" style="font-size:19.8px;color:#303030;left:473.30px;top:888.25px;letter-spacing:0.639px;-webkit-text-stroke:0.12px #303030">WB04-M-Blue</div>
<div class="t" style="font-size:19.8px;color:#303030;left:682.10px;top:888.25px;letter-spacing:0.191px;-webkit-text-stroke:0.12px #303030">Prima Compete Bra Top</div>
<div class="t" style="font-size:19.8px;color:#303030;right:914.60px;top:888.25px;letter-spacing:0.5px;-webkit-text-stroke:0.12px #303030">145</div>
<div class="t" style="font-size:19.8px;color:#303030;right:713.80px;top:888.25px;letter-spacing:0.5px;-webkit-text-stroke:0.12px #303030">46</div>
<div class="t" style="font-size:19.8px;color:#303030;right:519.86px;top:888.25px;letter-spacing:0.25px;-webkit-text-stroke:0.12px #303030">31.72%</div>
<div class="abs" style="left:385px;top:967.6px;width:67px;height:1.5px;background:#e6e6e6"></div>
<div class="abs" style="left:457px;top:967.6px;width:1243.5px;height:1.5px;background:#ececec"></div>
<div class="t" style="font-size:16.5px;color:#6d6d6d;top:940.70px;left:385px;width:66px;text-align:center">9</div>
<div class="t" style="font-size:19.8px;color:#303030;left:473.30px;top:942.25px;letter-spacing:0.491px;-webkit-text-stroke:0.12px #303030">WJ06-S-Purple</div>
<div class="t" style="font-size:19.8px;color:#303030;left:683.10px;top:942.25px;letter-spacing:0.243px;-webkit-text-stroke:0.12px #303030">Juno Jacket</div>
<div class="t" style="font-size:19.8px;color:#303030;right:914.60px;top:942.25px;letter-spacing:0.5px;-webkit-text-stroke:0.12px #303030">174</div>
<div class="t" style="font-size:19.8px;color:#303030;right:713.80px;top:942.25px;letter-spacing:0.5px;-webkit-text-stroke:0.12px #303030">55</div>
<div class="t" style="font-size:19.8px;color:#303030;right:519.86px;top:942.25px;letter-spacing:0.25px;-webkit-text-stroke:0.12px #303030">31.61%</div>
<div class="abs" style="left:385px;top:1021.6px;width:67px;height:1.5px;background:#e6e6e6"></div>
<div class="abs" style="left:457px;top:1021.6px;width:1243.5px;height:1.5px;background:#ececec"></div>
<div class="t" style="font-size:16.5px;color:#6d6d6d;top:994.70px;left:385px;width:66px;text-align:center">10</div>
<div class="t" style="font-size:19.8px;color:#303030;left:472.30px;top:996.25px;letter-spacing:0.277px;-webkit-text-stroke:0.12px #303030">MT03-XS-Yellow</div>
<div class="t" style="font-size:19.8px;color:#303030;left:682.10px;top:996.25px;letter-spacing:0.109px;-webkit-text-stroke:0.12px #303030">Primo Endurance Tank</div>
<div class="t" style="font-size:19.8px;color:#303030;right:914.60px;top:996.25px;letter-spacing:0.5px;-webkit-text-stroke:0.12px #303030">141</div>
<div class="t" style="font-size:19.8px;color:#303030;right:713.80px;top:996.25px;letter-spacing:0.5px;-webkit-text-stroke:0.12px #303030">44</div>
<div class="t" style="font-size:19.8px;color:#303030;right:519.86px;top:996.25px;letter-spacing:0.25px;-webkit-text-stroke:0.12px #303030">31.21%</div>
<div class="abs" style="left:385px;top:1075.6px;width:67px;height:1.5px;background:#e6e6e6"></div>
<div class="abs" style="left:457px;top:1075.6px;width:1243.5px;height:1.5px;background:#ececec"></div>
<div class="t" style="font-size:16.5px;color:#6d6d6d;top:1048.70px;left:385px;width:66px;text-align:center">11</div>
<div class="t" style="font-size:19.8px;color:#303030;left:473.30px;top:1050.25px;letter-spacing:0.474px;-webkit-text-stroke:0.12px #303030">WB05-S-Purple</div>
<div class="t" style="font-size:19.8px;color:#303030;left:682.10px;top:1050.25px;letter-spacing:0.229px;-webkit-text-stroke:0.12px #303030">Lucia Cross-Fit Bra</div>
<div class="t" style="font-size:19.8px;color:#303030;right:914.60px;top:1050.25px;letter-spacing:0.5px;-webkit-text-stroke:0.12px #303030">148</div>
<div class="t" style="font-size:19.8px;color:#303030;right:713.80px;top:1050.25px;letter-spacing:0.5px;-webkit-text-stroke:0.12px #303030">46</div>
<div class="t" style="font-size:19.8px;color:#303030;right:519.86px;top:1050.25px;letter-spacing:0.25px;-webkit-text-stroke:0.12px #303030">31.08%</div>
<div class="abs" style="left:385px;top:1129.6px;width:67px;height:1.5px;background:#e6e6e6"></div>
<div class="abs" style="left:457px;top:1129.6px;width:1243.5px;height:1.5px;background:#ececec"></div>
<div class="t" style="font-size:16.5px;color:#6d6d6d;top:1102.70px;left:385px;width:66px;text-align:center">12</div>
<div class="t" style="font-size:19.8px;color:#303030;left:472.30px;top:1104.25px;letter-spacing:0.529px;-webkit-text-stroke:0.12px #303030">MH13-M-Blue</div>
<div class="t" style="font-size:19.8px;color:#303030;left:682.10px;top:1104.25px;letter-spacing:0.398px;-webkit-text-stroke:0.12px #303030">Marco Lightweight Active Hoodie</div>
<div class="t" style="font-size:19.8px;color:#303030;right:914.60px;top:1104.25px;letter-spacing:0.5px;-webkit-text-stroke:0.12px #303030">165</div>
<div class="t" style="font-size:19.8px;color:#303030;right:713.80px;top:1104.25px;letter-spacing:0.5px;-webkit-text-stroke:0.12px #303030">51</div>
<div class="t" style="font-size:19.8px;color:#303030;right:519.86px;top:1104.25px;letter-spacing:0.25px;-webkit-text-stroke:0.12px #303030">30.91%</div>
<div class="abs" style="left:452px;top:328.5px;width:5px;height:821px;background:#e3e3e3"></div>
<div class="abs" style="left:385px;top:1133.2px;width:67px;height:16px;background:#f7f7f7;border-top:1.5px solid #e9e9e9"></div>
<div class="abs" style="left:457px;top:1133.2px;width:1722.5px;height:16px;background:#fff;border-top:1.5px solid #ececec"></div>
<div class="abs" style="left:385px;top:1149px;width:1795px;height:1.5px;background:#d9d9d9"></div>
<div class="t" style="font-size:19px;color:#1f1f1f;left:425.60px;top:1186.20px;letter-spacing:-0.182px;-webkit-text-stroke:0.35px #1f1f1f">1351 records</div>
<div class="abs" style="left:2103.2px;top:1144.7px;width:72px;height:72px;border-radius:50%;background:#25693b;box-shadow:0 2px 22px rgba(0,0,0,.13),0 0 0 1.5px rgba(255,255,255,.5)"></div>
<svg class="abs" style="left:2120px;top:1158px" width="40" height="44" viewBox="0 0 40 44" ><path d="M6.4 3.5h25.3a3.5 3.5 0 0 1 3.5 3.5v33.9l-10.7-3.7H6.4a3.5 3.5 0 0 1-3.5-3.5V7a3.5 3.5 0 0 1 3.5-3.5Z" fill="#fff"/><path d="M8.2 26.8c5.5 5.4 16.5 5.4 21.9 0" fill="none" stroke="#25693b" stroke-width="1.7" stroke-linecap="round"/></svg>
</div>
</body>
</html>
